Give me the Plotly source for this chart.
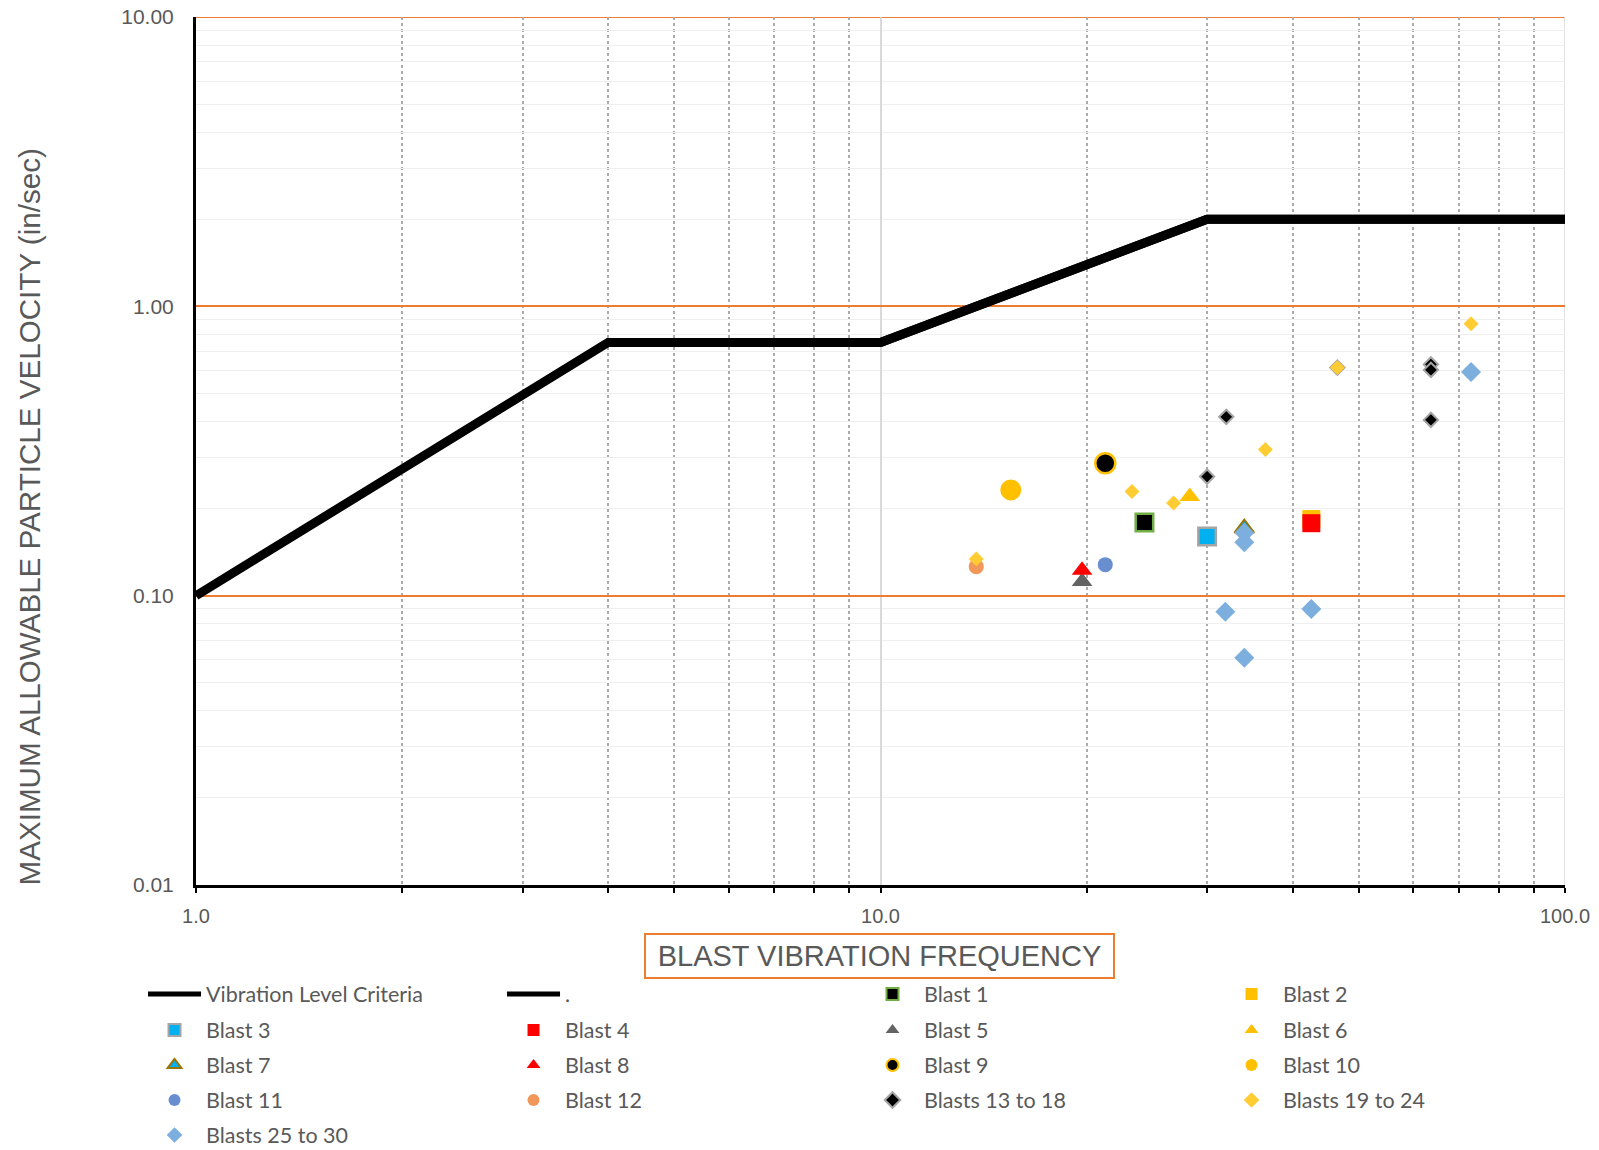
import plotly.graph_objects as go

# ---------------- data ----------------
criteria_x = [1, 4, 10, 30, 100]
criteria_y = [0.1, 0.75, 0.75, 2.0, 2.0]
criteria2_x = [10, 30, 100]
criteria2_y = [0.75, 2.0, 2.0]

blast1_x, blast1_y = [24.3], [0.179]
blast2_x, blast2_y = [42.6], [0.184]
blast3_x, blast3_y = [30.0], [0.160]
blast4_x, blast4_y = [42.6], [0.178]
blast5_x, blast5_y = [19.7], [0.112]
blast6_x, blast6_y = [28.3], [0.220]
blast7_x, blast7_y = [34.0], [0.171]
blast8_x, blast8_y = [19.7], [0.1225]
blast9_x, blast9_y = [21.3], [0.287]
blast10_x, blast10_y = [15.5], [0.232]
blast11_x, blast11_y = [21.3], [0.128]
blast12_x, blast12_y = [13.8], [0.126]
blasts13_18_x = [30.0, 32.0, 46.5, 63.7, 63.7, 63.7]
blasts13_18_y = [0.258, 0.415, 0.614, 0.630, 0.603, 0.405]
blasts19_24_x = [13.8, 23.3, 26.8, 36.5, 46.5, 72.9]
blasts19_24_y = [0.134, 0.229, 0.209, 0.320, 0.614, 0.871]
blasts25_30_x = [34.0, 34.0, 31.9, 34.0, 42.6, 72.9]
blasts25_30_y = [0.165, 0.153, 0.088, 0.061, 0.090, 0.593]

x_major_ticks = [1, 10, 100]
x_major_text = ["1.0", "10.0", "100.0"]
x_minor_ticks = [2, 3, 4, 5, 6, 7, 8, 9, 20, 30, 40, 50, 60, 70, 80, 90]
y_major_ticks = [0.01, 0.1, 1, 10]
y_major_text = ["0.01", "0.10", "1.00", "10.00"]
y_minor_ticks = [0.02, 0.03, 0.04, 0.05, 0.06, 0.07, 0.08, 0.09,
                 0.2, 0.3, 0.4, 0.5, 0.6, 0.7, 0.8, 0.9,
                 2, 3, 4, 5, 6, 7, 8, 9]

GRAY_TXT = "#595959"
ORANGE = "#ED7D31"

fig = go.Figure()

fig.add_trace(go.Scatter(x=criteria_x, y=criteria_y, mode="lines", name="Vibration Level Criteria",
                         line=dict(color="black", width=9), legend="legend"))
fig.add_trace(go.Scatter(x=criteria2_x, y=criteria2_y, mode="lines", name=".",
                         line=dict(color="black", width=9), legend="legend"))

def add_marker(name, xs, ys, symbol, size, color, lcolor=None, lwidth=0, legend="legend"):
    fig.add_trace(go.Scatter(
        x=xs, y=ys, mode="markers", name=name, legend=legend,
        marker=dict(symbol=symbol, size=size, color=color,
                    line=dict(color=lcolor if lcolor else color, width=lwidth))))

add_marker("Blast 1", blast1_x, blast1_y, "square", 17.5, "black", "#70AD47", 2.5, "legend")
add_marker("Blast 2", blast2_x, blast2_y, "square", 18, "#FFC000", None, 0, "legend")
add_marker("Blast 3", blast3_x, blast3_y, "square", 17.5, "#00B0F0", "#A5A5A5", 2.5, "legend2")
add_marker("Blast 4", blast4_x, blast4_y, "square", 18, "#FF0000", None, 0, "legend2")
add_marker("Blast 5", blast5_x, blast5_y, "triangle-up", 18, "#646464", None, 0, "legend2")
add_marker("Blast 6", blast6_x, blast6_y, "triangle-up", 18, "#FFC000", None, 0, "legend2")
add_marker("Blast 7", blast7_x, blast7_y, "triangle-up", 17, "#00B0F0", "#9C7400", 2, "legend3")
add_marker("Blast 8", blast8_x, blast8_y, "triangle-up", 18, "#FF0000", None, 0, "legend3")
add_marker("Blast 9", blast9_x, blast9_y, "circle", 20, "black", "#FFC000", 2.5, "legend3")
add_marker("Blast 10", blast10_x, blast10_y, "circle", 21, "#FFC000", None, 0, "legend3")
add_marker("Blast 11", blast11_x, blast11_y, "circle", 15, "#698ED0", None, 0, "legend4")
add_marker("Blast 12", blast12_x, blast12_y, "circle", 15, "#F1975A", None, 0, "legend4")
add_marker("Blasts 13 to 18", blasts13_18_x, blasts13_18_y, "diamond", 11, "black", "#A5A5A5", 2, "legend4")
add_marker("Blasts 19 to 24", blasts19_24_x, blasts19_24_y, "diamond", 11.5, "#FFCD33", None, 0, "legend4")
add_marker("Blasts 25 to 30", blasts25_30_x, blasts25_30_y, "diamond", 15.4, "#7CAFDD", None, 0, "legend5")

legend_common = dict(orientation="h", x=-0.0387, xanchor="left", yanchor="middle",
                     entrywidth=291, entrywidthmode="pixels", itemwidth=53,
                     itemsizing="constant", bgcolor="rgba(0,0,0,0)", borderwidth=0,
                     font=dict(family="Lato", size=21.5, color=GRAY_TXT), traceorder="normal")
row_y = [-0.1256, -0.1671, -0.2074, -0.2477, -0.2880]

fig.update_layout(
    width=1599, height=1150,
    margin=dict(l=196, r=34, t=17, b=265, autoexpand=False),
    paper_bgcolor="white", plot_bgcolor="white",
    showlegend=True,
    legend=dict(legend_common, y=row_y[0]),
    legend2=dict(legend_common, y=row_y[1]),
    legend3=dict(legend_common, y=row_y[2]),
    legend4=dict(legend_common, y=row_y[3]),
    legend5=dict(legend_common, y=row_y[4]),
    font=dict(family="Liberation Sans", color=GRAY_TXT),
)

fig.update_xaxes(
    type="log", range=[0, 2],
    showline=True, linecolor="black", linewidth=3,
    tickvals=x_major_ticks, ticktext=x_major_text,
    ticks="outside", ticklen=5, tickwidth=2, tickcolor="black",
    tickfont=dict(family="Liberation Sans", size=20, color=GRAY_TXT),
    ticklabelstandoff=6,
    showgrid=True, gridcolor="#D9D9D9", gridwidth=1.5,
    minor=dict(tickvals=x_minor_ticks, ticks="outside", ticklen=5, tickwidth=2, tickcolor="black",
               showgrid=True, gridcolor="#ABABAB", gridwidth=1.5, griddash="dot"),
    zeroline=False,
)
fig.update_yaxes(
    type="log", range=[-2, 1],
    showline=True, linecolor="black", linewidth=3,
    tickvals=y_major_ticks, ticktext=y_major_text,
    ticks="",
    tickfont=dict(family="Liberation Sans", size=21, color=GRAY_TXT),
    ticklabelstandoff=15,
    showgrid=True, gridcolor=ORANGE, gridwidth=2,
    minor=dict(tickvals=y_minor_ticks, showgrid=True, gridcolor="#EFEFEF", gridwidth=1.4),
    zeroline=False,
)

# edge gridlines (top major y gridline and right major x gridline) that plotly omits at range ends
fig.add_shape(type="line", xref="paper", yref="y", x0=0, x1=1, y0=y_major_ticks[-1], y1=y_major_ticks[-1],
              line=dict(color=ORANGE, width=2), layer="below")
fig.add_shape(type="line", xref="x", yref="paper", x0=x_major_ticks[-1], x1=x_major_ticks[-1], y0=0, y1=1,
              line=dict(color="#D9D9D9", width=1.5), layer="below")

fig.add_annotation(
    text="MAXIMUM ALLOWABLE PARTICLE VELOCITY (in/sec)", textangle=-90,
    xref="paper", yref="paper", x=-0.1213, y=0.4245, xanchor="center", yanchor="middle",
    showarrow=False, font=dict(family="Liberation Sans", size=29.6, color=GRAY_TXT))
fig.add_annotation(
    text="BLAST VIBRATION FREQUENCY",
    xref="paper", yref="paper", x=0.4993, y=-0.0818, xanchor="center", yanchor="middle",
    showarrow=False, font=dict(family="Liberation Sans", size=29, color=GRAY_TXT),
    bordercolor=ORANGE, borderwidth=2, borderpad=2, width=463, height=38)

fig.write_html("out.html", config={"displayModeBar": False},
               post_script="document.body.style.margin='0';")
